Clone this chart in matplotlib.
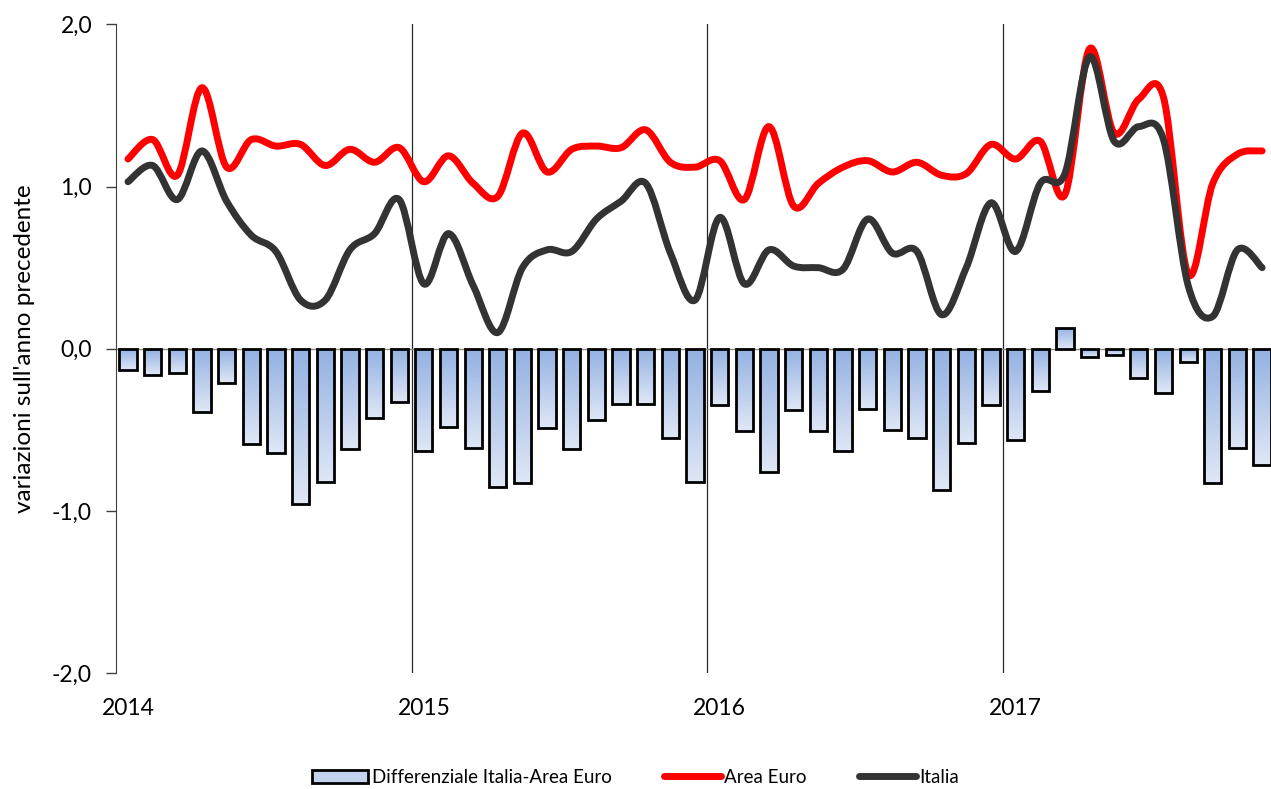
import numpy as np
import matplotlib
matplotlib.use("Agg")
import matplotlib.pyplot as plt
from matplotlib.path import Path
from matplotlib.patches import PathPatch, Patch
from matplotlib.lines import Line2D
from matplotlib.colors import LinearSegmentedColormap

plt.rcParams['font.family'] = ['Lato', 'DejaVu Sans']

# monthly data, Jan 2014 - Nov 2017
area_euro = [1.17, 1.29, 1.07, 1.61, 1.12, 1.29, 1.25, 1.26, 1.13, 1.23, 1.15, 1.24,
             1.03, 1.19, 1.02, 0.94, 1.33, 1.09, 1.23, 1.25, 1.24, 1.35, 1.15, 1.12,
             1.16, 0.92, 1.37, 0.88, 1.02, 1.12, 1.16, 1.09, 1.15, 1.07, 1.08, 1.26,
             1.17, 1.28, 0.95, 1.85, 1.33, 1.54, 1.55, 0.46, 1.02, 1.20, 1.22]
italia = [1.03, 1.13, 0.92, 1.22, 0.91, 0.70, 0.60, 0.30, 0.30, 0.61, 0.71, 0.92,
          0.40, 0.71, 0.39, 0.10, 0.50, 0.61, 0.60, 0.80, 0.91, 1.02, 0.59, 0.30,
          0.81, 0.40, 0.61, 0.51, 0.50, 0.49, 0.80, 0.59, 0.60, 0.21, 0.50, 0.90,
          0.60, 1.02, 1.08, 1.80, 1.28, 1.37, 1.29, 0.39, 0.20, 0.61, 0.50]
differenziale = [-0.13, -0.16, -0.15, -0.39, -0.21, -0.59, -0.64, -0.96, -0.82, -0.62, -0.43, -0.33,
                 -0.63, -0.48, -0.61, -0.85, -0.83, -0.49, -0.62, -0.44, -0.34, -0.34, -0.55, -0.82,
                 -0.35, -0.51, -0.76, -0.38, -0.51, -0.63, -0.37, -0.50, -0.55, -0.87, -0.58, -0.35,
                 -0.56, -0.26, 0.13, -0.05, -0.04, -0.18, -0.27, -0.08, -0.83, -0.61, -0.72]
years = ['2014', '2015', '2016', '2017']
y_ticks = [-2, -1, 0, 1, 2]
y_ticklabels = ['-2,0', '-1,0', '0,0', '1,0', '2,0']

x = np.arange(len(differenziale))


def smooth_path(xs, ys):
    # Excel-like smoothed line: cubic bezier through each point
    n = len(xs)
    verts = [(xs[0], ys[0])]
    codes = [Path.MOVETO]
    for i in range(n - 1):
        a = max(i - 1, 0)
        b = min(i + 2, n - 1)
        c1 = (xs[i] + (xs[i + 1] - xs[a]) / 6, ys[i] + (ys[i + 1] - ys[a]) / 6)
        c2 = (xs[i + 1] - (xs[b] - xs[i]) / 6, ys[i + 1] - (ys[b] - ys[i]) / 6)
        verts += [c1, c2, (xs[i + 1], ys[i + 1])]
        codes += [Path.CURVE4] * 3
    return Path(verts, codes)


fig = plt.figure(figsize=(12.71, 7.89), dpi=100)
ax = fig.add_axes([0.091, 0.147, 0.909, 0.822])

grad_cmap = LinearSegmentedColormap.from_list('bars', ['#dfe7f6', '#93b1e2'])
grad = np.linspace(0, 1, 64).reshape(-1, 1)

bars = ax.bar(x, differenziale, width=0.7, facecolor='none', edgecolor='black',
              linewidth=2, zorder=3)
for bar in bars:
    x0 = bar.get_x()
    y0, y1 = sorted([bar.get_y(), bar.get_y() + bar.get_height()])
    im = ax.imshow(grad, extent=[x0, x0 + bar.get_width(), y0, y1], origin='lower',
                   cmap=grad_cmap, aspect='auto', zorder=2, interpolation='bilinear')
    im.set_clip_path(bar)

ax.add_patch(PathPatch(smooth_path(x, area_euro), fill=False, edgecolor='#ff0000',
                       linewidth=5, capstyle='round', joinstyle='round', zorder=5))
ax.add_patch(PathPatch(smooth_path(x, italia), fill=False, edgecolor='#333333',
                       linewidth=5, capstyle='round', joinstyle='round', zorder=6))

for xv in [11.5, 23.5, 35.5]:
    ax.axvline(xv, color='#262626', linewidth=0.9, zorder=1)
ax.axhline(0, color='#8c8c8c', linewidth=1, zorder=1)

ax.set_xlim(-0.5, 46.36)
ax.set_ylim(-2, 2)
ax.set_yticks(y_ticks)
ax.set_yticklabels(y_ticklabels)
ax.set_xticks([0, 12, 24, 36])
ax.set_xticklabels(years)
ax.tick_params(axis='x', length=0, pad=18, labelsize=16.5)
ax.tick_params(axis='y', length=7, width=1, color='#404040', pad=10, labelsize=16.5)
for side in ['top', 'right', 'bottom']:
    ax.spines[side].set_visible(False)
ax.spines['left'].set_color('#404040')
ax.set_ylabel("variazioni sull'anno precedente", fontsize=17.5, labelpad=12)

handles = [Patch(facecolor='#c3d3ee', edgecolor='black', linewidth=2),
           Line2D([], [], color='#ff0000', linewidth=5, solid_capstyle='round'),
           Line2D([], [], color='#333333', linewidth=5, solid_capstyle='round')]
fig.legend(handles, ['Differenziale Italia-Area Euro', 'Area Euro', 'Italia'],
           loc='center', bbox_to_anchor=(0.5, 0.015), ncol=3, frameon=False,
           fontsize=13.5, handlelength=3.0, handletextpad=0.2, columnspacing=2.8)

fig.savefig('out.png', dpi=100)
